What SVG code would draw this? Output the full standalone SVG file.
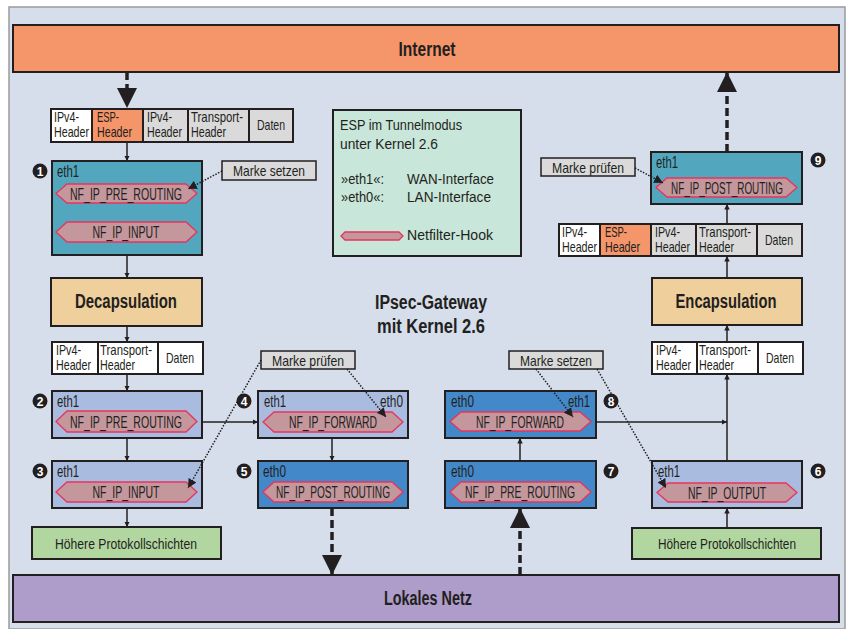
<svg xmlns="http://www.w3.org/2000/svg" width="847" height="629" viewBox="0 0 847 629">
<defs>
<style>
text{font-family:"Liberation Sans",Arial,sans-serif;fill:#231f20}
.b{stroke:#231f20;stroke-width:2}
.t{font-size:15.5px}
.e{font-size:16px}
.big{font-size:19.5px;font-weight:bold}
.hk{fill:#c4979d;stroke:#e8345c;stroke-width:1.3}
.hkt{font-size:16px;text-anchor:middle}
.cell{stroke:#231f20;stroke-width:2}
.ct{font-size:14.5px}
.lbl{fill:#dadada;stroke:#231f20;stroke-width:1.5}
.num{fill:#fff;font-size:12px;font-weight:bold;text-anchor:middle}
.ln{fill:none;stroke:#231f20;stroke-width:1.5}
.dash{fill:none;stroke:#231f20;stroke-width:3.5;stroke-dasharray:8,4}
.dot{fill:none;stroke:#231f20;stroke-width:1.5;stroke-dasharray:1.5,1.5}
</style>
<marker id="ah" viewBox="0 0 10 10" refX="10" refY="5" markerWidth="5.5" markerHeight="5.5" orient="auto" markerUnits="userSpaceOnUse"><path d="M0,0L10,5L0,10z" fill="#231f20"/></marker>
<marker id="ahs" viewBox="0 0 10 10" refX="10" refY="5" markerWidth="9" markerHeight="9" orient="auto" markerUnits="userSpaceOnUse"><path d="M0,0L10,5L0,10z" fill="#231f20"/></marker>
<marker id="ahb" viewBox="0 0 10 10" refX="10" refY="5" markerWidth="20" markerHeight="20" orient="auto" markerUnits="userSpaceOnUse"><path d="M0,0L10,5L0,10z" fill="#231f20"/></marker>
</defs>
<rect x="9" y="7" width="836" height="622" fill="#d5deea" stroke="#9a9a9a" stroke-width="1.5"/>

<g id="internet"><rect x="13" y="25" width="826" height="47" fill="#f5956a" class="b"/><text x="427" y="56" class="big" text-anchor="middle" textLength="57" lengthAdjust="spacingAndGlyphs">Internet</text></g>
<g id="lokales-netz"><rect x="13" y="575" width="826" height="47" fill="#ae9cca" class="b"/><text x="428" y="605" class="big" text-anchor="middle" textLength="88" lengthAdjust="spacingAndGlyphs">Lokales Netz</text></g>

<g id="legend">
<rect x="333" y="110" width="188" height="146" fill="#c8e6d9" class="b"/>
<text x="340" y="130" class="t" textLength="122" lengthAdjust="spacingAndGlyphs">ESP im Tunnelmodus</text>
<text x="340" y="149" class="t" textLength="98" lengthAdjust="spacingAndGlyphs">unter Kernel 2.6</text>
<text x="341" y="184" class="t" textLength="43" lengthAdjust="spacingAndGlyphs">»eth1«:</text><text x="407" y="184" class="t" textLength="87" lengthAdjust="spacingAndGlyphs">WAN-Interface</text>
<text x="341" y="202" class="t" textLength="43" lengthAdjust="spacingAndGlyphs">»eth0«:</text><text x="407" y="202" class="t" textLength="84" lengthAdjust="spacingAndGlyphs">LAN-Interface</text>
<polygon class="hk" points="341,236 345,232 399,232 403,236 399,240 345,240"/>
<text x="407" y="240" class="t" textLength="86" lengthAdjust="spacingAndGlyphs">Netfilter-Hook</text>
</g>

<g id="title"><text x="431" y="309" class="big" text-anchor="middle" textLength="112" lengthAdjust="spacingAndGlyphs">IPsec-Gateway</text><text x="431" y="333" class="big" text-anchor="middle" textLength="108" lengthAdjust="spacingAndGlyphs">mit Kernel 2.6</text></g>

<g id="packet1">
<rect x="51" y="109" width="41" height="33" fill="#fff" class="cell"/>
<rect x="92" y="109" width="51" height="33" fill="#f5956a" class="cell"/>
<rect x="143" y="109" width="45" height="33" fill="#dadada" class="cell"/>
<rect x="188" y="109" width="61" height="33" fill="#dadada" class="cell"/>
<rect x="249" y="109" width="44" height="33" fill="#dadada" class="cell"/>
<text x="54" y="122" class="ct" textLength="25" lengthAdjust="spacingAndGlyphs">IPv4-</text><text x="54" y="137" class="ct" textLength="35" lengthAdjust="spacingAndGlyphs">Header</text>
<text x="97" y="122" class="ct" textLength="22" lengthAdjust="spacingAndGlyphs">ESP-</text><text x="97" y="137" class="ct" textLength="35" lengthAdjust="spacingAndGlyphs">Header</text>
<text x="147" y="122" class="ct" textLength="25" lengthAdjust="spacingAndGlyphs">IPv4-</text><text x="147" y="137" class="ct" textLength="35" lengthAdjust="spacingAndGlyphs">Header</text>
<text x="191" y="122" class="ct" textLength="52" lengthAdjust="spacingAndGlyphs">Transport-</text><text x="191" y="137" class="ct" textLength="35" lengthAdjust="spacingAndGlyphs">Header</text>
<text x="271" y="130" class="ct" text-anchor="middle" textLength="28" lengthAdjust="spacingAndGlyphs">Daten</text>
</g>

<g id="packet2">
<rect x="559" y="224" width="41" height="32" fill="#fff" class="cell"/>
<rect x="600" y="224" width="51" height="32" fill="#f5956a" class="cell"/>
<rect x="651" y="224" width="45" height="32" fill="#dadada" class="cell"/>
<rect x="696" y="224" width="61" height="32" fill="#dadada" class="cell"/>
<rect x="757" y="224" width="45" height="32" fill="#dadada" class="cell"/>
<text x="562" y="237" class="ct" textLength="25" lengthAdjust="spacingAndGlyphs">IPv4-</text><text x="562" y="252" class="ct" textLength="35" lengthAdjust="spacingAndGlyphs">Header</text>
<text x="605" y="237" class="ct" textLength="22" lengthAdjust="spacingAndGlyphs">ESP-</text><text x="605" y="252" class="ct" textLength="35" lengthAdjust="spacingAndGlyphs">Header</text>
<text x="655" y="237" class="ct" textLength="25" lengthAdjust="spacingAndGlyphs">IPv4-</text><text x="655" y="252" class="ct" textLength="35" lengthAdjust="spacingAndGlyphs">Header</text>
<text x="699" y="237" class="ct" textLength="52" lengthAdjust="spacingAndGlyphs">Transport-</text><text x="699" y="252" class="ct" textLength="35" lengthAdjust="spacingAndGlyphs">Header</text>
<text x="779" y="245" class="ct" text-anchor="middle" textLength="28" lengthAdjust="spacingAndGlyphs">Daten</text>
</g>

<g id="packet3">
<rect x="52" y="342" width="46" height="32" fill="#fff" class="cell"/>
<rect x="98" y="342" width="60" height="32" fill="#fff" class="cell"/>
<rect x="158" y="342" width="45" height="32" fill="#fff" class="cell"/>
<text x="56" y="355" class="ct" textLength="25" lengthAdjust="spacingAndGlyphs">IPv4-</text><text x="56" y="370" class="ct" textLength="35" lengthAdjust="spacingAndGlyphs">Header</text>
<text x="100" y="355" class="ct" textLength="52" lengthAdjust="spacingAndGlyphs">Transport-</text><text x="100" y="370" class="ct" textLength="35" lengthAdjust="spacingAndGlyphs">Header</text>
<text x="180" y="363" class="ct" text-anchor="middle" textLength="28" lengthAdjust="spacingAndGlyphs">Daten</text>
</g>

<g id="packet4">
<rect x="652" y="342" width="45" height="32" fill="#fff" class="cell"/>
<rect x="697" y="342" width="61" height="32" fill="#fff" class="cell"/>
<rect x="758" y="342" width="45" height="32" fill="#fff" class="cell"/>
<text x="656" y="355" class="ct" textLength="25" lengthAdjust="spacingAndGlyphs">IPv4-</text><text x="656" y="370" class="ct" textLength="35" lengthAdjust="spacingAndGlyphs">Header</text>
<text x="699" y="355" class="ct" textLength="52" lengthAdjust="spacingAndGlyphs">Transport-</text><text x="699" y="370" class="ct" textLength="35" lengthAdjust="spacingAndGlyphs">Header</text>
<text x="780" y="363" class="ct" text-anchor="middle" textLength="28" lengthAdjust="spacingAndGlyphs">Daten</text>
</g>

<g id="node1">
<rect x="52" y="161" width="150" height="94" fill="#52a7bf" class="b"/>
<text x="57" y="176.5" class="e" textLength="22" lengthAdjust="spacingAndGlyphs">eth1</text>
<polygon class="hk" points="56,193.5 67,184 186,184 197,193.5 186,203 67,203"/>
<text x="126" y="199.5" class="hkt" textLength="112" lengthAdjust="spacingAndGlyphs">NF_IP_PRE_ROUTING</text>
<polygon class="hk" points="56,232 67,222 186,222 197,232 186,242 67,242"/>
<text x="126" y="238" class="hkt" textLength="67" lengthAdjust="spacingAndGlyphs">NF_IP_INPUT</text>
<circle cx="40" cy="171" r="7.5" fill="#231f20"/><text x="40" y="175.5" class="num">1</text>
</g>

<g id="node9">
<rect x="651" y="152" width="151" height="52" fill="#52a7bf" class="b"/>
<text x="656" y="167.5" class="e" textLength="22" lengthAdjust="spacingAndGlyphs">eth1</text>
<polygon class="hk" points="656,187.5 667,178 786,178 797,187.5 786,197 667,197"/>
<text x="727" y="193.5" class="hkt" textLength="112" lengthAdjust="spacingAndGlyphs">NF_IP_POST_ROUTING</text>
<circle cx="818" cy="160" r="7.5" fill="#231f20"/><text x="818" y="164.5" class="num">9</text>
</g>

<g id="decap"><rect x="51" y="278" width="151" height="48" fill="#efcf9c" class="b"/><text x="126" y="308" class="big" text-anchor="middle" textLength="102" lengthAdjust="spacingAndGlyphs">Decapsulation</text></g>
<g id="encap"><rect x="652" y="278" width="150" height="47" fill="#efcf9c" class="b"/><text x="726" y="308" class="big" text-anchor="middle" textLength="101" lengthAdjust="spacingAndGlyphs">Encapsulation</text></g>

<g id="node2">
<rect x="52" y="391" width="150" height="47" fill="#a9bce0" class="b"/>
<text x="57" y="406.5" class="e" textLength="22" lengthAdjust="spacingAndGlyphs">eth1</text>
<polygon class="hk" points="56,421.5 67,411 186,411 197,421.5 186,432 67,432"/>
<text x="126" y="427.5" class="hkt" textLength="112" lengthAdjust="spacingAndGlyphs">NF_IP_PRE_ROUTING</text>
<circle cx="40" cy="401" r="7.5" fill="#231f20"/><text x="40" y="405.5" class="num">2</text>
</g>

<g id="node3">
<rect x="52" y="461" width="150" height="47" fill="#a9bce0" class="b"/>
<text x="57" y="476.5" class="e" textLength="22" lengthAdjust="spacingAndGlyphs">eth1</text>
<polygon class="hk" points="56,492 67,482 186,482 197,492 186,502 67,502"/>
<text x="126" y="498" class="hkt" textLength="67" lengthAdjust="spacingAndGlyphs">NF_IP_INPUT</text>
<circle cx="40" cy="471" r="7.5" fill="#231f20"/><text x="40" y="475.5" class="num">3</text>
</g>

<g id="node4">
<rect x="258" y="391" width="150" height="47" fill="#a9bce0" class="b"/>
<text x="264" y="406.5" class="e" textLength="22" lengthAdjust="spacingAndGlyphs">eth1</text>
<text x="403" y="406.5" class="e" text-anchor="end" textLength="23" lengthAdjust="spacingAndGlyphs">eth0</text>
<polygon class="hk" points="263,422 274,412 392,412 403,422 392,432 274,432"/>
<text x="333" y="428" class="hkt" textLength="88" lengthAdjust="spacingAndGlyphs">NF_IP_FORWARD</text>
<circle cx="244" cy="401" r="7.5" fill="#231f20"/><text x="244" y="405.5" class="num">4</text>
</g>

<g id="node5">
<rect x="258" y="461" width="150" height="47" fill="#4388c8" class="b"/>
<text x="263" y="476.5" class="e" textLength="23" lengthAdjust="spacingAndGlyphs">eth0</text>
<polygon class="hk" points="263,492 274,482 392,482 403,492 392,502 274,502"/>
<text x="333" y="498" class="hkt" textLength="114" lengthAdjust="spacingAndGlyphs">NF_IP_POST_ROUTING</text>
<circle cx="244" cy="471" r="7.5" fill="#231f20"/><text x="244" y="475.5" class="num">5</text>
</g>

<g id="node8">
<rect x="445" y="391" width="151" height="47" fill="#4388c8" class="b"/>
<text x="451" y="406.5" class="e" textLength="23" lengthAdjust="spacingAndGlyphs">eth0</text>
<text x="590" y="406.5" class="e" text-anchor="end" textLength="22" lengthAdjust="spacingAndGlyphs">eth1</text>
<polygon class="hk" points="450,421.5 461,412 580,412 591,421.5 580,431 461,431"/>
<text x="520" y="427.5" class="hkt" textLength="88" lengthAdjust="spacingAndGlyphs">NF_IP_FORWARD</text>
<circle cx="611" cy="401" r="7.5" fill="#231f20"/><text x="611" y="405.5" class="num">8</text>
</g>

<g id="node7">
<rect x="445" y="461" width="151" height="47" fill="#4388c8" class="b"/>
<text x="451" y="476.5" class="e" textLength="23" lengthAdjust="spacingAndGlyphs">eth0</text>
<polygon class="hk" points="450,492 461,482 580,482 591,492 580,502 461,502"/>
<text x="520" y="498" class="hkt" textLength="110" lengthAdjust="spacingAndGlyphs">NF_IP_PRE_ROUTING</text>
<circle cx="611" cy="471" r="7.5" fill="#231f20"/><text x="611" y="475.5" class="num">7</text>
</g>

<g id="node6">
<rect x="652" y="461" width="150" height="47" fill="#a9bce0" class="b"/>
<text x="658" y="476.5" class="e" textLength="22" lengthAdjust="spacingAndGlyphs">eth1</text>
<polygon class="hk" points="657,492.5 668,483 786,483 797,492.5 786,502 668,502"/>
<text x="727" y="498.5" class="hkt" textLength="78" lengthAdjust="spacingAndGlyphs">NF_IP_OUTPUT</text>
<circle cx="818" cy="471" r="7.5" fill="#231f20"/><text x="818" y="475.5" class="num">6</text>
</g>

<g id="hoehere-links"><rect x="32" y="527" width="189" height="32" fill="#b2d6a0" class="b"/><text x="126" y="548.5" class="ct" text-anchor="middle" textLength="142" lengthAdjust="spacingAndGlyphs">Höhere Protokollschichten</text></g>
<g id="hoehere-rechts"><rect x="632" y="528" width="189" height="31" fill="#b2d6a0" class="b"/><text x="727" y="548.5" class="ct" text-anchor="middle" textLength="138" lengthAdjust="spacingAndGlyphs">Höhere Protokollschichten</text></g>

<g id="label-setzen-1"><rect x="222" y="161" width="94" height="19" class="lbl"/><text x="269" y="176" class="ct" text-anchor="middle" textLength="72" lengthAdjust="spacingAndGlyphs">Marke setzen</text></g>
<g id="label-pruefen-9"><rect x="541" y="158" width="94" height="18" class="lbl"/><text x="588" y="172.5" class="ct" text-anchor="middle" textLength="72" lengthAdjust="spacingAndGlyphs">Marke prüfen</text></g>
<g id="label-pruefen-mid"><rect x="261" y="351" width="94" height="18" class="lbl"/><text x="308" y="365.5" class="ct" text-anchor="middle" textLength="72" lengthAdjust="spacingAndGlyphs">Marke prüfen</text></g>
<g id="label-setzen-mid"><rect x="509" y="351" width="94" height="18" class="lbl"/><text x="556" y="365.5" class="ct" text-anchor="middle" textLength="72" lengthAdjust="spacingAndGlyphs">Marke setzen</text></g>

<g id="connectors">
<path class="dash" d="M127,72V108" marker-end="url(#ahb)"/>
<path class="dash" d="M727,152V72" marker-end="url(#ahb)"/>
<path class="dash" d="M332,508V575" marker-end="url(#ahb)"/>
<path class="dash" d="M520,575V508" marker-end="url(#ahb)"/>
<path class="ln" d="M127,142V161" marker-end="url(#ah)"/>
<path class="ln" d="M127,255V278" marker-end="url(#ah)"/>
<path class="ln" d="M127,326V342" marker-end="url(#ah)"/>
<path class="ln" d="M127,374V391" marker-end="url(#ah)"/>
<path class="ln" d="M127,438V461" marker-end="url(#ah)"/>
<path class="ln" d="M127,508V527" marker-end="url(#ah)"/>
<path class="ln" d="M202,422H258" marker-end="url(#ah)"/>
<path class="ln" d="M332,438V461" marker-end="url(#ah)"/>
<path class="ln" d="M520,461V438" marker-end="url(#ah)"/>
<path class="ln" d="M596,422H727" marker-end="url(#ah)"/>
<path class="ln" d="M727,461V374" marker-end="url(#ah)"/>
<path class="ln" d="M727,342V325" marker-end="url(#ah)"/>
<path class="ln" d="M727,278V256" marker-end="url(#ah)"/>
<path class="ln" d="M727,224V204" marker-end="url(#ah)"/>
<path class="ln" d="M727,528V508" marker-end="url(#ah)"/>
<path class="dot" d="M222,171L188,189" marker-end="url(#ahs)"/>
<path class="dot" d="M635,168L663,183" marker-end="url(#ahs)"/>
<path class="dot" d="M261,360L188,488" marker-end="url(#ahs)"/>
<path class="dot" d="M347,369L386,417" marker-end="url(#ahs)"/>
<path class="dot" d="M536,369L573,417" marker-end="url(#ahs)"/>
<path class="dot" d="M597,369L666,488" marker-end="url(#ahs)"/>
</g>
</svg>
